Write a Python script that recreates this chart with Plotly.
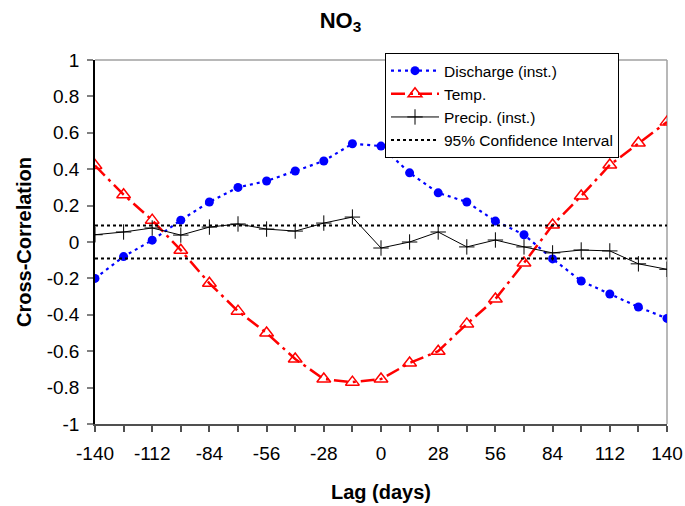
import plotly.graph_objects as go

lags = [-140, -126, -112, -98, -84, -70, -56, -42, -28, -14, 0, 14, 28, 42, 56, 70, 84, 98, 112, 126, 140]
discharge = [-0.20, -0.08, 0.01, 0.12, 0.22, 0.30, 0.335, 0.39, 0.445, 0.54, 0.527, 0.38, 0.27, 0.22, 0.115, 0.04, -0.093, -0.214, -0.286, -0.357, -0.42]
temp = [0.42, 0.26, 0.12, -0.045, -0.227, -0.38, -0.50, -0.643, -0.753, -0.77, -0.753, -0.665, -0.60, -0.45, -0.313, -0.115, 0.093, 0.253, 0.423, 0.544, 0.66]
precip = [0.04, 0.055, 0.077, 0.038, 0.082, 0.099, 0.071, 0.06, 0.104, 0.137, -0.033, 0.0, 0.055, -0.027, 0.011, -0.027, -0.06, -0.044, -0.049, -0.12, -0.15]
ci_level = 0.09

x_tickvals = [-140, -112, -84, -56, -28, 0, 28, 56, 84, 112, 140]
x_ticktext = ["-140", "-112", "-84", "-56", "-28", "0", "28", "56", "84", "112", "140"]
y_tickvals = [1, 0.8, 0.6, 0.4, 0.2, 0, -0.2, -0.4, -0.6, -0.8, -1]
y_ticktext = ["1", "0.8", "0.6", "0.4", "0.2", "0", "-0.2", "-0.4", "-0.6", "-0.8", "-1"]

FONT = "Arial, Liberation Sans, sans-serif"

fig = go.Figure()
fig.add_trace(go.Scatter(
    x=lags, y=discharge, name="Discharge (inst.)", mode="lines+markers",
    line=dict(color="#0000FF", width=2.2, dash="3px,4px"),
    marker=dict(symbol="circle", size=9, color="#0000FF"),
))
fig.add_trace(go.Scatter(
    x=lags, y=temp, name="Temp.", mode="lines+markers",
    line=dict(color="#FF0000", width=2.5, dash="14px,5px,3px,5px"),
    marker=dict(symbol="triangle-up-open", size=12, color="#FF0000", line=dict(width=1.5, color="#FF0000")),
))
fig.add_trace(go.Scatter(
    x=lags, y=precip, name="Precip. (inst.)", mode="lines+markers",
    line=dict(color="#000000", width=1),
    marker=dict(symbol="cross-thin", size=11, color="#000000", line=dict(width=1, color="#000000")),
))
ci_x = [lags[0], lags[-1], None, lags[0], lags[-1]]
ci_y = [ci_level, ci_level, None, -ci_level, -ci_level]
fig.add_trace(go.Scatter(
    x=ci_x, y=ci_y, name="95% Confidence Interval", mode="lines",
    line=dict(color="#000000", width=2, dash="3px,3px"),
))

fig.update_layout(
    width=685, height=506,
    margin=dict(l=95, r=18, t=60, b=82),
    paper_bgcolor="white", plot_bgcolor="white",
    font=dict(family=FONT, color="black", size=19),
    title=dict(text="<b>NO<sub>3</sub></b>", x=0.497, xref="container", xanchor="center",
               y=1 - 20 / 506, yref="container", yanchor="middle",
               font=dict(family=FONT, size=22, color="black")),
    showlegend=True,
    legend=dict(x=0.507, y=1.019, xanchor="left", yanchor="top",
                bgcolor="white", bordercolor="black", borderwidth=1,
                font=dict(family=FONT, size=15.5, color="black"),
                tracegroupgap=0, itemwidth=48),
    shapes=[
        dict(type="line", xref="paper", yref="paper", x0=0, x1=1, y0=1, y1=1,
             line=dict(color="#A0A0A0", width=1.5), layer="below"),
        dict(type="line", xref="paper", yref="paper", x0=1, x1=1, y0=0, y1=1,
             line=dict(color="#A0A0A0", width=1.5), layer="below"),
    ],
)

fig.update_xaxes(
    range=[-140, 140], showgrid=False, zeroline=False,
    showline=True, linecolor="#505050", linewidth=1.5,
    ticks="outside", ticklen=6, tickcolor="#505050", tickwidth=1.5,
    tickvals=x_tickvals, ticktext=x_ticktext,
    minor=dict(dtick=14, tick0=0, ticks="outside", ticklen=6, tickcolor="#505050", tickwidth=1.5),
    tickfont=dict(family=FONT, size=19, color="black"),
    ticklabelstandoff=5,
    title=dict(text="<b>Lag (days)</b>", font=dict(family=FONT, size=20, color="black"), standoff=22),
    automargin=False,
)
fig.update_yaxes(
    range=[-1, 1], showgrid=False, zeroline=False,
    showline=True, linecolor="black", linewidth=1.5,
    ticks="outside", ticklen=6, tickcolor="#808080", tickwidth=1.5,
    tickvals=y_tickvals, ticktext=y_ticktext,
    tickfont=dict(family=FONT, size=19, color="black"),
    ticklabelstandoff=4,
    title=dict(text="<b>Cross-Correlation</b>", font=dict(family=FONT, size=20, color="black"), standoff=10),
    automargin=False,
)

fig.write_html("out.html")
